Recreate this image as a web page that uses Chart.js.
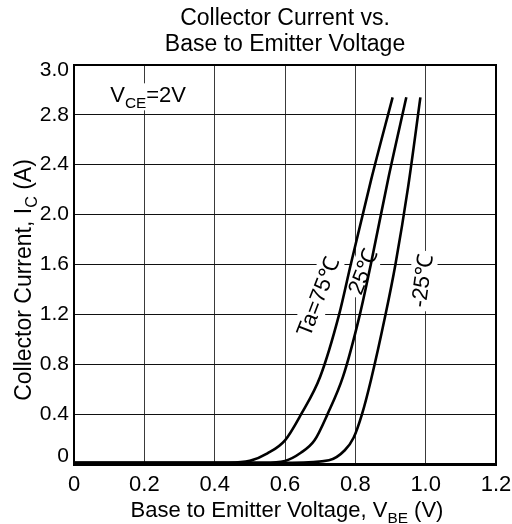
<!DOCTYPE html>
<html>
<head>
<meta charset="utf-8">
<script src="https://cdn.jsdelivr.net/npm/chart.js@4.4.0/dist/chart.umd.min.js"></script>
<style>
    html, body { margin: 0; padding: 0; background: #fff; }
</style>
</head>
<body>
<canvas id="chart-vbe" width="512" height="524"></canvas>
<script>
// data (VBE in V, IC in A)
var vbe75 = [0, 0.44, 0.50, 0.55, 0.60, 0.646, 0.700, 0.754, 0.787, 0.845, 0.906]
var ic75 = [0.01, 0.01, 0.025, 0.085, 0.19, 0.40, 0.70, 1.20, 1.60, 2.28, 2.94]

var vbe25 = [0, 0.54, 0.60, 0.645, 0.684, 0.721, 0.765, 0.813, 0.844, 0.893, 0.945]
var ic25 = [0.01, 0.01, 0.025, 0.09, 0.19, 0.40, 0.70, 1.20, 1.60, 2.28, 2.94]

var vbeM25 = [0, 0.62, 0.725, 0.770, 0.795, 0.819, 0.845, 0.886, 0.914, 0.950, 0.985]
var icM25 = [0.01, 0.01, 0.03, 0.11, 0.21, 0.40, 0.68, 1.20, 1.60, 2.22, 2.94]

var xTickValues = [0, 0.2, 0.4, 0.6, 0.8, 1.0, 1.2]
var xTickLabels = ['0', '0.2', '0.4', '0.6', '0.8', '1.0', '1.2']
var yTickValues = [0, 0.4, 0.8, 1.2, 1.6, 2.0, 2.4, 2.8, 3.2]
var yTickLabels = ['0', '0.4', '0.8', '1.2', '1.6', '2.0', '2.4', '2.8', '3.0']

var FONT = "'Liberation Sans', Arial, sans-serif";

function toPoints(xs, ys) {
    return xs.map(function (x, i) { return { x: x, y: ys[i] } });
}

// text with subscript parts, parts = [[text, isSub], ...]
function partsWidth(ctx, parts, size) {
    var w = 0;
    parts.forEach(function (p) {
        ctx.font = (p[1] ? size * 0.7 : size) + 'px ' + FONT;
        w += ctx.measureText(p[0]).width;
    });
    return w;
}
function drawParts(ctx, parts, size, x, y) {
    parts.forEach(function (p) {
        ctx.font = (p[1] ? size * 0.7 : size) + 'px ' + FONT;
        ctx.fillText(p[0], x, p[1] ? y + size * 0.28 : y);
        x += ctx.measureText(p[0]).width;
    });
}

// rotated label with white box behind it, placed by data coords
function tagLabel(ctx, chart, text, vx, vy, angle, size) {
    var px = chart.scales.x.getPixelForValue(vx);
    var py = chart.scales.y.getPixelForValue(vy);
    ctx.save();
    ctx.translate(px, py);
    ctx.rotate(angle * Math.PI / 180);
    ctx.font = size + 'px ' + FONT;
    var w = ctx.measureText(text).width;
    ctx.fillStyle = '#fff';
    ctx.fillRect(-w / 2 - 3, -size / 2 - 2, w + 6, size + 4);
    ctx.fillStyle = '#000';
    ctx.textAlign = 'center';
    ctx.textBaseline = 'middle';
    ctx.fillText(text, 0, 1);
    ctx.restore();
}

var extraText = {
    id: 'extraText',
    beforeDatasetsDraw: function (chart) {
        var ctx = chart.ctx;
        var x = chart.scales.x, y = chart.scales.y;

        // VCE=2V
        var vce = [['V', false], ['CE', true], ['=2V', false]];
        ctx.save();
        ctx.textBaseline = 'alphabetic';
        ctx.textAlign = 'left';
        var w = partsWidth(ctx, vce, 22);
        var lx = x.getPixelForValue(0.103), ly = y.getPixelForValue(2.90);
        ctx.fillStyle = '#fff';
        ctx.fillRect(lx - 2, ly - 19, w + 4, 27);
        ctx.fillStyle = '#000';
        drawParts(ctx, vce, 22, lx, ly);
        ctx.restore();

        tagLabel(ctx, chart, 'Ta=75\u2103', 0.694, 1.34, -69, 22);
        tagLabel(ctx, chart, '25\u2103', 0.822, 1.54, -68, 22);
        tagLabel(ctx, chart, '-25\u2103', 0.99, 1.47, -82, 22);
    },
    afterDraw: function (chart) {
        var ctx = chart.ctx;
        var a = chart.chartArea;
        var y = chart.scales.y;
        ctx.save();

        // top / right frame
        ctx.strokeStyle = '#000';
        ctx.lineWidth = 2;
        ctx.beginPath();
        ctx.moveTo(a.left, a.top);
        ctx.lineTo(a.right, a.top);
        ctx.lineTo(a.right, a.bottom);
        ctx.stroke();

        // y tick labels
        ctx.fillStyle = '#000';
        ctx.font = '21px ' + FONT;
        ctx.textAlign = 'right';
        ctx.textBaseline = 'middle';
        yTickValues.forEach(function (v, i) {
            var py = y.getPixelForValue(v);
            if (i == 0) py -= 8;
            if (i == yTickValues.length - 1) py += 5;
            ctx.fillText(yTickLabels[i], a.left - 5, py);
        });

        // x axis title
        ctx.textAlign = 'left';
        ctx.textBaseline = 'alphabetic';
        var xt = [['Base to Emitter Voltage, V', false], ['BE', true], [' (V)', false]];
        var w = partsWidth(ctx, xt, 22);
        drawParts(ctx, xt, 22, (a.left + a.right) / 2 + 2 - w / 2, 517);

        // y axis title
        var yt = [['Collector Current, I', false], ['C', true], [' (A)', false]];
        ctx.translate(31, 280);
        ctx.rotate(-Math.PI / 2);
        w = partsWidth(ctx, yt, 23);
        drawParts(ctx, yt, 23, -w / 2, 0);
        ctx.restore();
    }
};

var lineStyle = {
    borderColor: '#000',
    borderWidth: 2.6,
    pointRadius: 0,
    fill: false,
    cubicInterpolationMode: 'monotone'
};

var ctx = document.getElementById('chart-vbe').getContext('2d');

new Chart(ctx, {
    type: 'line',
    data: {
        datasets: [
            Object.assign({ label: 'Ta=75', data: toPoints(vbe75, ic75) }, lineStyle),
            Object.assign({ label: '25', data: toPoints(vbe25, ic25) }, lineStyle),
            Object.assign({ label: '-25', data: toPoints(vbeM25, icM25) }, lineStyle),
        ]
    },
    options: {
        responsive: false,
        animation: false,
        layout: {
            padding: { right: 16 }
        },
        plugins: {
            legend: { display: false },
            tooltip: { enabled: false },
            title: {
                display: true,
                fullSize: false,
                text: ['Collector Current vs.', 'Base to Emitter Voltage'],
                color: '#000',
                font: { size: 23, family: FONT, weight: 'normal', lineHeight: 1.15 },
                padding: { top: 5, bottom: 7 }
            }
        },
        scales: {
            x: {
                type: 'linear',
                min: 0,
                max: 1.2,
                afterBuildTicks: function (s) {
                    s.ticks = xTickValues.map(function (v) { return { value: v } });
                },
                afterFit: function (s) {
                    s.height = 60;
                    s.paddingLeft = 0;
                    s.paddingRight = 0;
                },
                ticks: {
                    color: '#000',
                    padding: 8,
                    maxRotation: 0,
                    font: { size: 22, family: FONT },
                    callback: function (value) {
                        return xTickLabels[xTickValues.indexOf(value)];
                    }
                },
                grid: {
                    color: '#3a3a3a',
                    lineWidth: 1,
                    drawTicks: false
                },
                border: { color: '#000', width: 3 }
            },
            y: {
                type: 'linear',
                min: 0,
                max: 3.2,
                afterBuildTicks: function (s) {
                    s.ticks = yTickValues.map(function (v) { return { value: v } });
                },
                afterFit: function (s) { s.width = 74; },
                ticks: { display: false },
                grid: {
                    color: '#111',
                    lineWidth: 1,
                    drawTicks: false
                },
                border: { color: '#000', width: 2 }
            }
        }
    },
    plugins: [extraText]
});
</script>
</body>
</html>
